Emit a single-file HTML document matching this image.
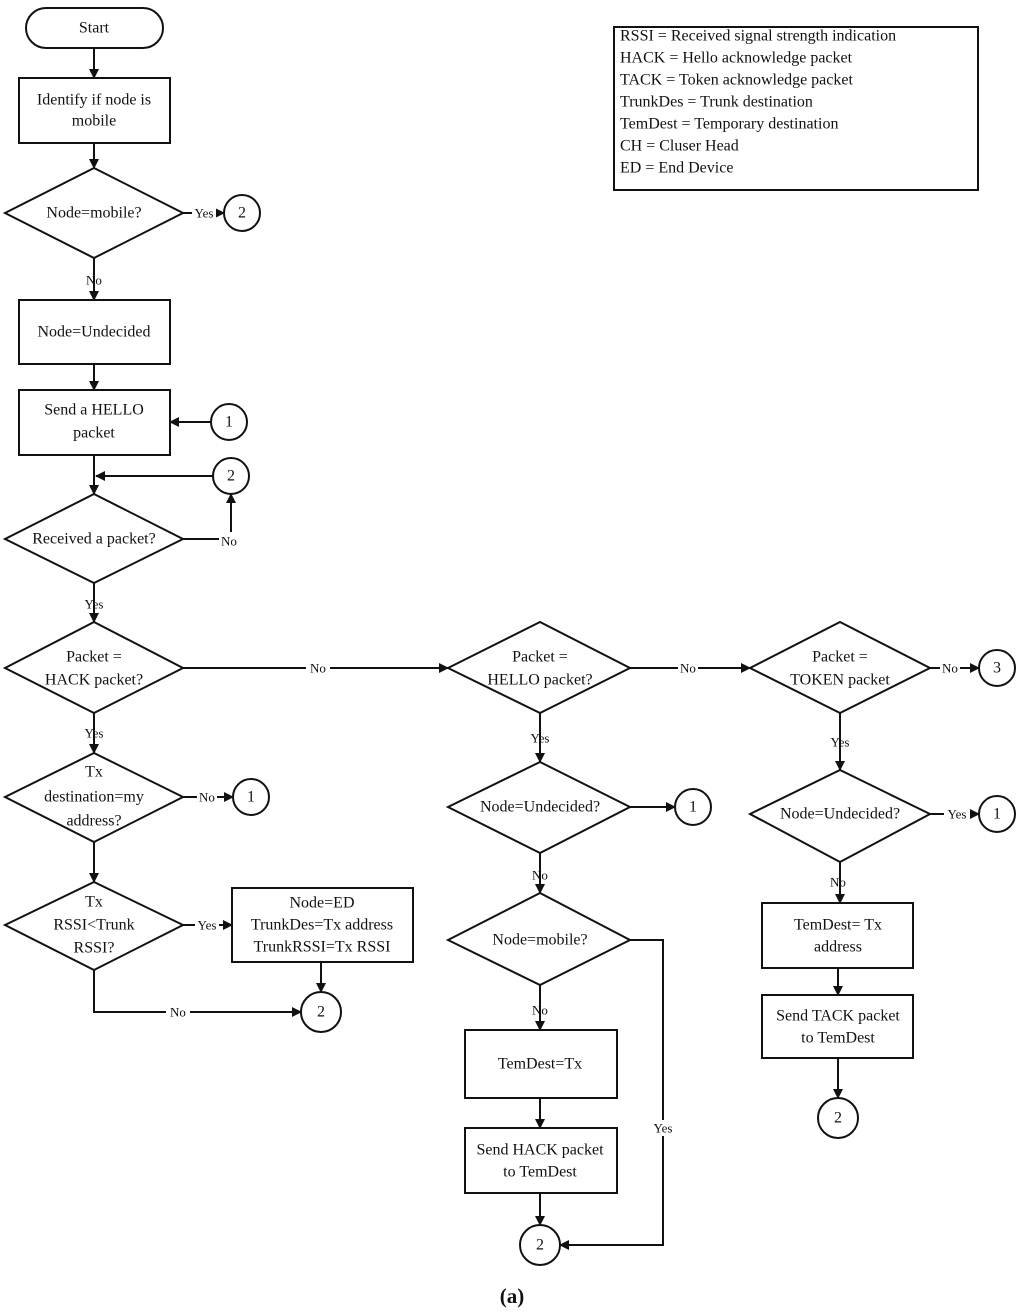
<!DOCTYPE html>
<html><head><meta charset="utf-8"><style>body{margin:0;background:#fff}svg{display:block}text{font-family:"Liberation Serif",serif;font-size:16px;fill:#111}</style></head><body>
<svg width="1024" height="1314" viewBox="0 0 1024 1314" xmlns="http://www.w3.org/2000/svg">
<defs><marker id="a" markerWidth="10" markerHeight="10" refX="9" refY="5" orient="auto" markerUnits="userSpaceOnUse"><path d="M0,0 L10,5 L0,10 z" fill="#111"/></marker></defs>
<g fill="none" stroke="#111" stroke-width="2">
<rect x="26" y="8" width="137" height="40" rx="20"/>
<rect x="19" y="78" width="151" height="65"/>
<polygon points="5,213 94,168 183,213 94,258"/>
<rect x="19" y="300" width="151" height="64"/>
<rect x="19" y="390" width="151" height="65"/>
<polygon points="5,539 94,494 183,539 94,583"/>
<polygon points="5,668 94,622 183,668 94,713"/>
<polygon points="5,797 94,753 183,797 94,842"/>
<polygon points="5,925 94,882 183,925 94,970"/>
<rect x="232" y="888" width="181" height="74"/>
<polygon points="448,668 540,622 630,668 540,713"/>
<polygon points="448,807 540,762 630,807 540,853"/>
<polygon points="448,940 540,893 630,940 540,985"/>
<rect x="465" y="1030" width="152" height="68"/>
<rect x="465" y="1128" width="152" height="65"/>
<polygon points="750,668 840,622 930,668 840,713"/>
<polygon points="750,814 840,770 930,814 840,862"/>
<rect x="762" y="903" width="151" height="65"/>
<rect x="762" y="995" width="151" height="63"/>
<rect x="614" y="27" width="364" height="163"/>
<circle cx="242" cy="213" r="18"/><circle cx="229" cy="422" r="18"/><circle cx="231" cy="476" r="18"/>
<circle cx="251" cy="797" r="18"/><circle cx="321" cy="1012" r="20"/>
<circle cx="693" cy="807" r="18"/><circle cx="540" cy="1245" r="20"/>
<circle cx="997" cy="668" r="18"/><circle cx="997" cy="814" r="18"/><circle cx="838" cy="1118" r="20"/>
</g>
<g fill="none" stroke="#111" stroke-width="2" marker-end="url(#a)">
<line x1="94" y1="48" x2="94" y2="78"/>
<line x1="94" y1="143" x2="94" y2="168"/>
<line x1="183" y1="213" x2="224" y2="213"/>
<line x1="94" y1="258" x2="94" y2="300"/>
<line x1="94" y1="364" x2="94" y2="390"/>
<line x1="211" y1="422" x2="170" y2="422"/>
<line x1="94" y1="455" x2="94" y2="494"/>
<line x1="213" y1="476" x2="96" y2="476"/>
<polyline points="183,539 231,539 231,494"/>
<line x1="94" y1="583" x2="94" y2="622"/>
<line x1="183" y1="668" x2="448" y2="668"/>
<line x1="94" y1="713" x2="94" y2="753"/>
<line x1="183" y1="797" x2="233" y2="797"/>
<line x1="94" y1="842" x2="94" y2="882"/>
<line x1="183" y1="925" x2="232" y2="925"/>
<line x1="321" y1="962" x2="321" y2="992"/>
<polyline points="94,970 94,1012 301,1012"/>
<line x1="630" y1="668" x2="750" y2="668"/>
<line x1="930" y1="668" x2="979" y2="668"/>
<line x1="540" y1="713" x2="540" y2="762"/>
<line x1="630" y1="807" x2="675" y2="807"/>
<line x1="540" y1="853" x2="540" y2="893"/>
<line x1="540" y1="985" x2="540" y2="1030"/>
<line x1="540" y1="1098" x2="540" y2="1128"/>
<line x1="540" y1="1193" x2="540" y2="1225"/>
<polyline points="630,940 663,940 663,1245 560,1245"/>
<line x1="840" y1="713" x2="840" y2="770"/>
<line x1="930" y1="814" x2="979" y2="814"/>
<line x1="840" y1="862" x2="840" y2="903"/>
<line x1="838" y1="968" x2="838" y2="995"/>
<line x1="838" y1="1058" x2="838" y2="1098"/>
</g>
<g text-anchor="middle" dominant-baseline="central">
<text x="94" y="28">Start</text>
<text x="94" y="100">Identify if node is</text><text x="94" y="121">mobile</text>
<text x="94" y="213">Node=mobile?</text>
<text x="94" y="332">Node=Undecided</text>
<text x="94" y="410">Send a HELLO</text><text x="94" y="433">packet</text>
<text x="94" y="539">Received a packet?</text>
<text x="94" y="657">Packet =</text><text x="94" y="680">HACK packet?</text>
<text x="94" y="772">Tx</text><text x="94" y="797">destination=my</text><text x="94" y="821">address?</text>
<text x="94" y="902">Tx</text><text x="94" y="925">RSSI&lt;Trunk</text><text x="94" y="948">RSSI?</text>
<text x="322" y="903">Node=ED</text><text x="322" y="925">TrunkDes=Tx address</text><text x="322" y="947">TrunkRSSI=Tx RSSI</text>
<text x="540" y="657">Packet =</text><text x="540" y="680">HELLO packet?</text>
<text x="540" y="807">Node=Undecided?</text>
<text x="540" y="940">Node=mobile?</text>
<text x="540" y="1064">TemDest=Tx</text>
<text x="540" y="1150">Send HACK packet</text><text x="540" y="1172">to TemDest</text>
<text x="840" y="657">Packet =</text><text x="840" y="680">TOKEN packet</text>
<text x="840" y="814">Node=Undecided?</text>
<text x="838" y="925">TemDest= Tx</text><text x="838" y="947">address</text>
<text x="838" y="1016">Send TACK packet</text><text x="838" y="1038">to TemDest</text>
<text x="242" y="213">2</text><text x="229" y="422">1</text><text x="231" y="476">2</text>
<text x="251" y="797">1</text><text x="321" y="1012">2</text><text x="693" y="807">1</text>
<text x="540" y="1245">2</text><text x="997" y="668">3</text><text x="997" y="814">1</text><text x="838" y="1118">2</text>
</g>
<g text-anchor="middle" dominant-baseline="central" style="font-size:13px">
<rect x="192" y="205" width="24" height="15" fill="#fff"/><text x="204" y="213" style="font-size:13px">Yes</text>
<text x="94" y="280" style="font-size:13px">No</text>
<rect x="219" y="532" width="20" height="16" fill="#fff"/><text x="229" y="541" style="font-size:13px">No</text>
<text x="94" y="604" style="font-size:13px">Yes</text>
<rect x="306" y="660" width="24" height="16" fill="#fff"/><text x="318" y="668" style="font-size:13px">No</text>
<text x="94" y="733" style="font-size:13px">Yes</text>
<rect x="197" y="789" width="20" height="16" fill="#fff"/><text x="207" y="797" style="font-size:13px">No</text>
<rect x="195" y="917" width="24" height="16" fill="#fff"/><text x="207" y="925" style="font-size:13px">Yes</text>
<rect x="166" y="1004" width="24" height="16" fill="#fff"/><text x="178" y="1012" style="font-size:13px">No</text>
<rect x="678" y="660" width="20" height="16" fill="#fff"/><text x="688" y="668" style="font-size:13px">No</text>
<rect x="940" y="660" width="20" height="16" fill="#fff"/><text x="950" y="668" style="font-size:13px">No</text>
<text x="540" y="738" style="font-size:13px">Yes</text>
<text x="540" y="875" style="font-size:13px">No</text>
<text x="540" y="1010" style="font-size:13px">No</text>
<rect x="650" y="1120" width="26" height="16" fill="#fff"/><text x="663" y="1128" style="font-size:13px">Yes</text>
<text x="840" y="742" style="font-size:13px">Yes</text>
<rect x="944" y="806" width="26" height="16" fill="#fff"/><text x="957" y="814" style="font-size:13px">Yes</text>
<text x="838" y="882" style="font-size:13px">No</text>
</g>
<g dominant-baseline="central">
<text x="620" y="36">RSSI = Received signal strength indication</text>
<text x="620" y="58">HACK = Hello acknowledge packet</text>
<text x="620" y="80">TACK = Token acknowledge packet</text>
<text x="620" y="102">TrunkDes = Trunk destination</text>
<text x="620" y="124">TemDest = Temporary destination</text>
<text x="620" y="146">CH = Cluser Head</text>
<text x="620" y="168">ED = End Device</text>
</g>
<text x="512" y="1296" text-anchor="middle" dominant-baseline="central" style="font-size:21px;font-weight:bold">(a)</text>
</svg>
</body></html>
